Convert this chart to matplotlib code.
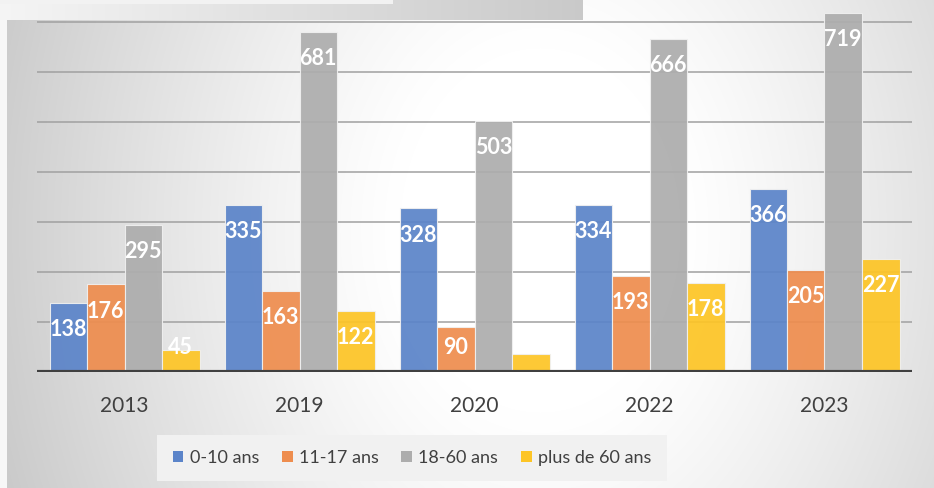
import numpy as np
import matplotlib
matplotlib.use('Agg')
import matplotlib.pyplot as plt
from matplotlib.patches import Patch

years = ['2013', '2019', '2020', '2022', '2023']
series_names = ['0-10 ans', '11-17 ans', '18-60 ans', 'plus de 60 ans']
v_0_10 = [138, 335, 328, 334, 366]
v_11_17 = [176, 163, 90, 193, 205]
v_18_60 = [295, 681, 503, 666, 719]
v_60p = [45, 122, 36, 178, 227]
series_values = [v_0_10, v_11_17, v_18_60, v_60p]
colors = ['#5b84c9', '#ee8d4e', '#adadad', '#fdc526']

plt.rcParams['font.family'] = ['Lato', 'DejaVu Sans']

W, H = 934, 488
fig = plt.figure(figsize=(W / 100, H / 100), dpi=100)

# background gradient
bg = fig.add_axes([0, 0, 1, 1], zorder=0)
yy, xx = np.mgrid[0:H, 0:W]
r = np.sqrt((xx - 540) ** 2 + ((yy - 230) / 1.3) ** 2)
g = 1 - 0.22 * np.clip((r - 140) / 450, 0, 1.3) ** 1.2
g[0:20, 0:583] = np.linspace(0.96, 0.79, 583)[None, :]
g[0:4, 0:393] = 0.95
g[20:, 0:7] = 0.97
img = np.dstack([g, g, g])
bg.imshow(img, aspect='auto', extent=[0, W, H, 0], interpolation='bilinear')
bg.set_axis_off()

ax = fig.add_axes([37 / W, (H - 372) / H, 875 / W, 400 / H], zorder=1)
ax.patch.set_alpha(0)
ax.set_xlim(-0.5, 4.5)
ax.set_ylim(0, 800)
for s in ax.spines.values():
    s.set_visible(False)
ax.set_yticks([])
for yv in range(100, 800, 100):
    ax.axhline(yv, color='#a0a0a0', lw=1.1, zorder=0)

x = np.arange(len(years))
w = 37.5 / 175
for i, (vals, c) in enumerate(zip(series_values, colors)):
    xs = x + (i - 1.5) * w
    ax.bar(xs, vals, width=w, color=c, alpha=0.93, edgecolor='#f0f0f0',
           linewidth=0.8, zorder=2)
    for xi, v in zip(xs, vals):
        ax.text(xi, max(v - 54, 48), str(v), ha='center', va='center',
                color='white', fontweight='bold', fontsize=15.5, zorder=3)

ax.axhline(0, color='#404040', lw=3, zorder=4)
ax.set_xticks(x, years)
ax.tick_params(axis='x', length=0, pad=17, labelsize=15, labelcolor='#404040')

handles = [Patch(facecolor=c, edgecolor='none') for c in colors]
leg = fig.legend(handles, series_names, loc='center', ncol=4,
                 bbox_to_anchor=(412 / W, 1 - 458 / H), frameon=True,
                 fancybox=False, facecolor='#f1f1f1', edgecolor='none',
                 framealpha=1, fontsize=13, handlelength=0.6, handleheight=0.6,
                 handletextpad=0.35, columnspacing=1.25, borderpad=0.85,
                 borderaxespad=0)
for t in leg.get_texts():
    t.set_color('#404040')

fig.savefig('out.png', dpi=100)
